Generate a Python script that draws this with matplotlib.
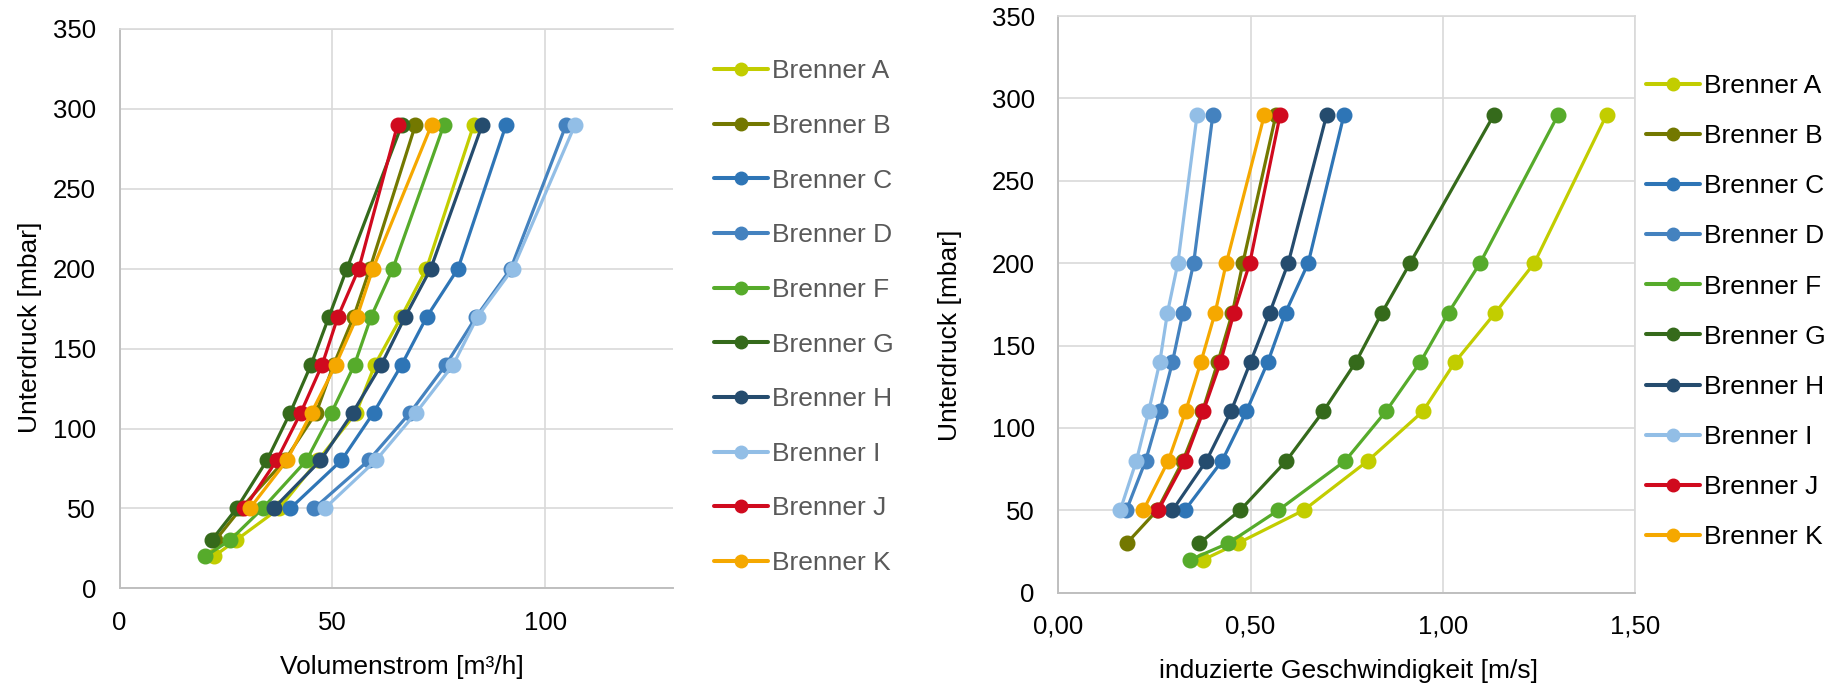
import matplotlib
matplotlib.use("Agg")
import matplotlib.pyplot as plt

plt.rcParams['font.family'] = ['Liberation Sans', 'DejaVu Sans']

# ---------------- data ----------------
names = ["Brenner A", "Brenner B", "Brenner C", "Brenner D", "Brenner F",
         "Brenner G", "Brenner H", "Brenner I", "Brenner J", "Brenner K"]
colors = ["#C2CD00", "#737800", "#2E75B6", "#4482BF", "#56AB2B",
          "#356A1B", "#254C6E", "#92BEE6", "#D00A1E", "#F5A800"]

pressure = [290, 200, 170, 140, 110, 80, 50, 30, 20]   # Unterdruck [mbar]

# Volumenstrom [m3/h]
flow_A = [83.2, 72.1, 66.2, 60.0, 55.6, 46.6, 37.5, 27.3, 22.2]
flow_B = [69.5, 58.8, 55.0, 50.3, 46.2, 38.8, 28.5, 22.5]
flow_C = [90.8, 79.5, 72.2, 66.3, 59.7, 52.1, 40.1]
flow_D = [104.9, 91.9, 83.8, 76.7, 68.3, 58.5, 45.7]
flow_F = [76.2, 64.2, 59.1, 55.2, 49.8, 43.9, 33.6, 25.9, 20.1]
flow_G = [66.3, 53.4, 49.2, 45.0, 40.1, 34.6, 27.5, 21.6]
flow_H = [85.2, 73.1, 67.1, 61.5, 54.8, 47.2, 36.2]
flow_I = [107.0, 92.4, 84.1, 78.4, 69.7, 60.2, 48.2]
flow_J = [65.3, 56.2, 51.3, 47.6, 42.6, 36.9, 29.3]
flow_K = [73.3, 59.5, 55.8, 50.8, 45.1, 39.3, 30.6]

# induzierte Geschwindigkeit [m/s]
speed_A = [1.426, 1.238, 1.137, 1.032, 0.948, 0.805, 0.638, 0.467, 0.377]
speed_B = [0.566, 0.480, 0.453, 0.415, 0.375, 0.324, 0.257, 0.178]
speed_C = [0.743, 0.650, 0.591, 0.545, 0.489, 0.426, 0.329]
speed_D = [0.402, 0.352, 0.324, 0.297, 0.264, 0.227, 0.177]
speed_F = [1.300, 1.097, 1.015, 0.942, 0.852, 0.746, 0.572, 0.442, 0.343]
speed_G = [1.133, 0.915, 0.842, 0.774, 0.689, 0.593, 0.473, 0.367]
speed_H = [0.698, 0.598, 0.550, 0.500, 0.449, 0.385, 0.297]
speed_I = [0.361, 0.311, 0.284, 0.264, 0.235, 0.203, 0.161]
speed_J = [0.577, 0.498, 0.457, 0.422, 0.377, 0.329, 0.260]
speed_K = [0.536, 0.437, 0.408, 0.371, 0.331, 0.286, 0.221]

flows = [flow_A, flow_B, flow_C, flow_D, flow_F, flow_G, flow_H, flow_I, flow_J, flow_K]
speeds = [speed_A, speed_B, speed_C, speed_D, speed_F, speed_G, speed_H, speed_I, speed_J, speed_K]

y_ticks = [0, 50, 100, 150, 200, 250, 300, 350]
x1_ticks = [0, 50, 100]
x1_ticklabels = ["0", "50", "100"]
x2_ticks = [0.0, 0.5, 1.0, 1.5]
x2_ticklabels = ["0,00", "0,50", "1,00", "1,50"]

ylabel = "Unterdruck [mbar]"
xlabel1 = "Volumenstrom [m³/h]"
xlabel2 = "induzierte Geschwindigkeit [m/s]"

# ---------------- figure ----------------
W, H = 1835, 684
fig = plt.figure(figsize=(W / 100, H / 100), dpi=100)

ax1 = fig.add_axes([119.6 / W, 1 - 588.3 / H, 553.3 / W, 559.3 / H])
ax2 = fig.add_axes([1058.3 / W, 1 - 592.7 / H, 576.7 / W, 576.7 / H])

GRID = "#D9D9D9"
AXC = "#BFBFBF"


def style(ax, xlim, xt, xtl, right_grid):
    ax.set_xlim(*xlim)
    ax.set_ylim(0, 350)
    ax.set_xticks(xt)
    ax.set_xticklabels(xtl)
    ax.set_yticks(y_ticks)
    ax.grid(True, color=GRID, lw=1.2)
    ax.set_axisbelow(True)
    ax.spines['top'].set_color(GRID)
    ax.spines['top'].set_linewidth(1.2)
    ax.spines['right'].set_visible(right_grid)
    ax.spines['right'].set_color(GRID)
    ax.spines['right'].set_linewidth(1.2)
    for s in ('left', 'bottom'):
        ax.spines[s].set_color(AXC)
        ax.spines[s].set_linewidth(1.4)
    ax.tick_params(axis='both', length=0, labelsize=18.5, colors='black')
    ax.tick_params(axis='x', pad=16)
    ax.tick_params(axis='y', pad=17)


style(ax1, (0, 130), x1_ticks, x1_ticklabels, False)
style(ax2, (0, 1.5), x2_ticks, x2_ticklabels, True)

for ax, data in ((ax1, flows), (ax2, speeds)):
    for name, col, xs in zip(names, colors, data):
        ax.plot(xs, pressure[:len(xs)], color=col, lw=2.3, marker='o',
                markersize=10.5, markeredgecolor=col, markerfacecolor=col,
                label=name, solid_capstyle='round')

ax1.set_ylabel(ylabel, fontsize=19)
ax1.yaxis.set_label_coords(-0.141, 0.466)
ax1.set_xlabel(xlabel1, fontsize=19)
ax1.xaxis.set_label_coords(0.511, -0.120)

ax2.set_ylabel(ylabel, fontsize=19)
ax2.yaxis.set_label_coords(-0.167, 0.447)
ax2.set_xlabel(xlabel2, fontsize=19)
ax2.xaxis.set_label_coords(0.504, -0.115)

common = dict(loc='upper left', frameon=False, fontsize=19, handlelength=2.05,
              handletextpad=0.15, borderpad=0, borderaxespad=0,
              markerscale=9 / 10.5)
leg1 = ax1.legend(bbox_to_anchor=(714 / W, 1 - 59.5 / H), bbox_transform=fig.transFigure,
                  labelspacing=1.16, labelcolor='#595959', **common)
leg2 = ax2.legend(bbox_to_anchor=(1646 / W, 1 - 74 / H), bbox_transform=fig.transFigure,
                  labelspacing=0.99, labelcolor='black', **common)
for leg in (leg1, leg2):
    for h in leg.legend_handles:
        h.set_linewidth(2.9)

fig.savefig("out.png", dpi=100)
